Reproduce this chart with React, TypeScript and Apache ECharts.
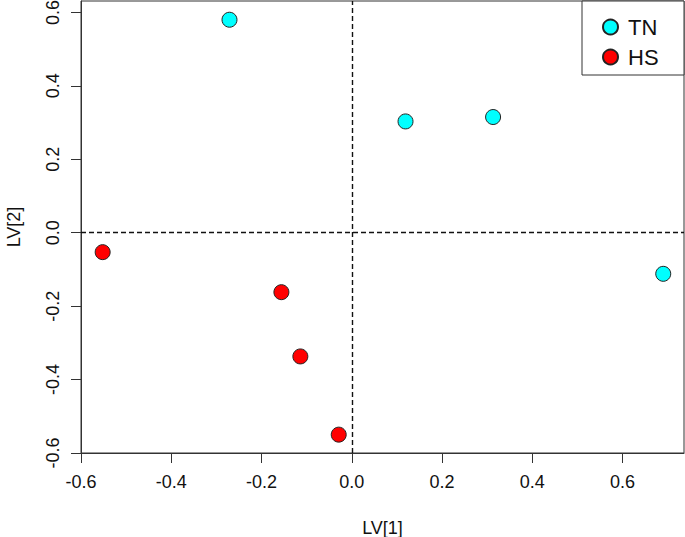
import React, { useEffect, useRef } from "react";
import * as echarts from "echarts";

const tnX = [-0.271, 0.119, 0.313, 0.690];
const tnY = [0.580, 0.303, 0.315, -0.112];
const hsX = [-0.552, -0.156, -0.114, -0.029];
const hsY = [-0.053, -0.162, -0.337, -0.550];
const tickValues = [-0.6, -0.4, -0.2, 0.0, 0.2, 0.4, 0.6];
const seriesNames = ["TN", "HS"];
const xName = "LV[1]";
const yName = "LV[2]";

const FONT = "'Liberation Sans', Arial, sans-serif";

export default function App() {
  const ref = useRef<HTMLDivElement>(null);
  useEffect(() => {
    if (!ref.current) return;
    const chart = echarts.init(ref.current, undefined, { renderer: "svg" });
    const zip = (xs: number[], ys: number[]) => xs.map((x, i) => [x, ys[i]]);
    const axisCommon = {
      type: "value",
      nameLocation: "middle",
      nameTextStyle: { fontFamily: FONT, fontSize: 18, color: "#111" },
      axisLine: { show: true, onZero: false, lineStyle: { color: "#333", width: 1 } },
      axisTick: {
        show: true,
        length: 10,
        customValues: tickValues,
        lineStyle: { color: "#333", width: 1 },
      },
      axisLabel: {
        show: true,
        customValues: tickValues,
        fontFamily: FONT,
        fontSize: 18,
        color: "#111",
        formatter: (v: number) => v.toFixed(1),
      },
      splitLine: { show: false },
    };
    chart.setOption({
      animation: false,
      backgroundColor: "#fff",
      grid: {
        left: 81,
        right: 1,
        top: 1,
        bottom: 84,
        show: true,
        borderColor: "#333",
        borderWidth: 1,
        backgroundColor: "transparent",
        containLabel: false,
        outerBoundsMode: "none",
      },
      xAxis: {
        ...axisCommon,
        min: -0.6,
        max: 0.736,
        name: xName,
        nameGap: 66,
        axisLabel: { ...axisCommon.axisLabel, margin: 20 },
      },
      yAxis: {
        ...axisCommon,
        min: -0.6,
        max: 0.631,
        name: yName,
        nameGap: 58,
        axisLabel: { ...axisCommon.axisLabel, margin: 19, rotate: 90 },
      },
      legend: {
        orient: "vertical",
        left: 597,
        top: 11,
        itemWidth: 15,
        itemHeight: 15,
        itemGap: 8,
        icon: "circle",
        data: seriesNames,
        textStyle: {
          fontFamily: FONT,
          fontSize: 22,
          lineHeight: 22,
          color: "#111",
          padding: [0, 0, 0, 5],
        },
      },
      graphic: [
        {
          type: "rect",
          shape: { x: 582, y: 1, width: 102, height: 74 },
          style: { fill: "#fff", stroke: "#333", lineWidth: 1 },
          z: 0,
          silent: true,
        },
      ],
      series: [
        {
          name: seriesNames[0],
          type: "scatter",
          symbol: "circle",
          symbolSize: 15,
          data: zip(tnX, tnY),
          itemStyle: { color: "#00FFFF", borderColor: "#222", borderWidth: 1, opacity: 1 },
          z: 5,
          markLine: {
            silent: true,
            symbol: "none",
            label: { show: false },
            lineStyle: { color: "#111", type: [5, 3], width: 1.4, opacity: 1 },
            emphasis: { disabled: true },
            data: [{ xAxis: 0 }, { yAxis: 0 }],
            z: 3,
          },
        },
        {
          name: seriesNames[1],
          type: "scatter",
          symbol: "circle",
          symbolSize: 15,
          data: zip(hsX, hsY),
          itemStyle: { color: "#FF0000", borderColor: "#222", borderWidth: 1, opacity: 1 },
          z: 5,
        },
      ],
    });
    return () => chart.dispose();
  }, []);
  return (
    <div
      ref={ref}
      style={{ position: "absolute", left: 0, top: 0, width: 685, height: 537 }}
    />
  );
}
